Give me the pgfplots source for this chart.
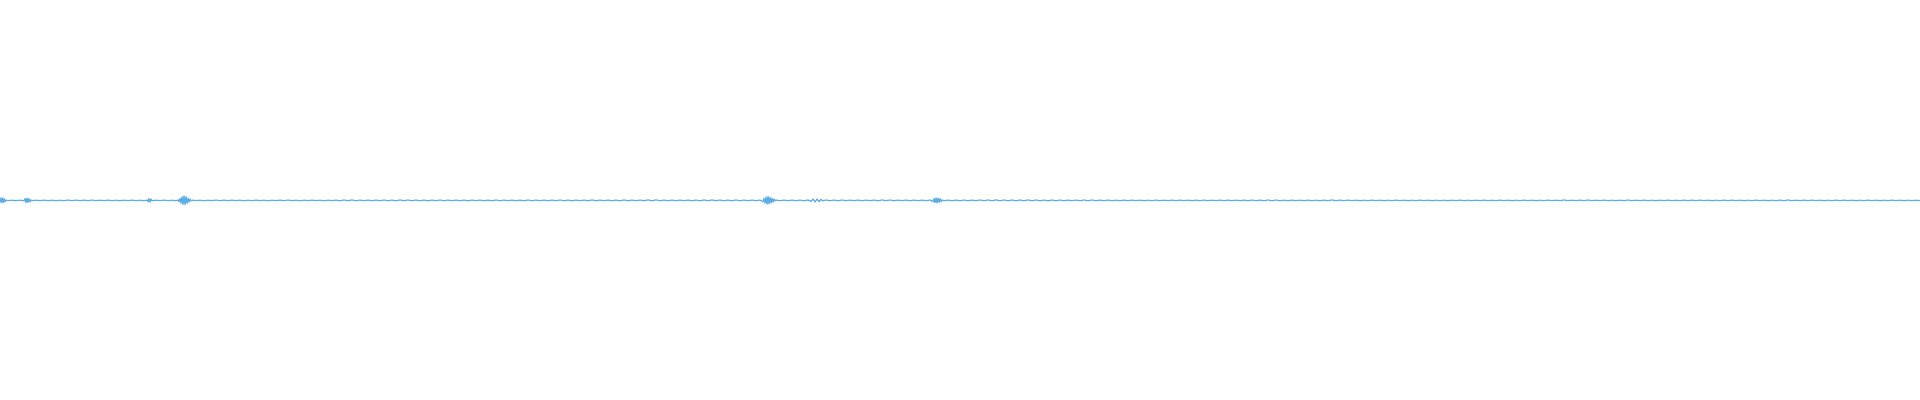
\documentclass[border=0pt]{standalone}
\usepackage{pgfplots}
\pgfplotsset{compat=1.18}
\definecolor{wave}{RGB}{93,173,226}

% waveform, x and y in pixels of the 1920x400 picture, y up from the centre line
\pgfplotstableread[row sep=\\]{
x y\\
0 2.6\\ 1 -2.2\\ 2 2.8\\ 3 -2.6\\ 4 2.0\\ 5 -1.5\\ 6 0.4\\ 8 -0.25\\ 12 0.2\\ 16 -0.3\\ 20 0.25\\ 24 -0.5\\
25 1.8\\ 26 -2.2\\ 27 2.4\\ 28 -2.0\\ 29 1.8\\ 30 -1.5\\ 31 0.5\\ 32 -0.3\\ 36 0.25\\ 40 -0.2\\
44 0.3\\ 48 -0.2\\ 52 0.25\\ 56 -0.35\\ 60 0.2\\ 64 -0.25\\ 68 0.35\\ 72 -0.2\\ 76 0.3\\ 80 -0.25\\
84 0.3\\ 88 -0.2\\ 92 0.35\\ 96 -0.3\\ 100 0.25\\ 104 -0.2\\ 108 0.3\\ 112 -0.25\\ 116 0.2\\ 120 -0.3\\
124 0.25\\ 128 -0.2\\ 132 0.3\\ 136 -0.25\\ 140 0.2\\ 144 -0.3\\ 147 0.4\\ 148 -1.4\\ 149 1.8\\ 150 -1.8\\
151 1.4\\ 152 -0.4\\ 156 0.25\\ 160 -0.2\\ 164 0.3\\ 168 -0.25\\ 172 0.2\\ 176 -0.3\\ 178 0.4\\ 179 -1.4\\
180 2.0\\ 181 -2.8\\ 182 3.6\\ 183 -4.2\\ 184 4.6\\ 185 -4.4\\ 186 3.8\\ 187 -3.0\\ 188 2.4\\ 189 -1.8\\
190 1.4\\ 191 -0.4\\ 193 0.3\\ 196 -0.25\\ 200 0.25\\ 204 -0.3\\ 208 0.2\\ 212 -0.25\\ 216 0.35\\ 220 -0.2\\
224 0.3\\ 228 -0.25\\ 232 0.3\\ 236 -0.2\\ 240 0.25\\ 244 -0.3\\ 248 0.2\\ 252 -0.25\\ 256 0.3\\ 260 -0.2\\
264 0.25\\ 268 -0.3\\ 272 0.2\\ 276 -0.25\\ 280 0.3\\ 284 -0.2\\ 288 0.35\\ 292 -0.25\\ 296 0.2\\ 300 -0.3\\
304 0.25\\ 308 -0.2\\ 312 0.3\\ 316 -0.25\\ 320 0.2\\ 324 -0.3\\ 328 0.25\\ 332 -0.2\\ 336 0.3\\ 340 -0.35\\
344 0.4\\ 348 -0.3\\ 352 0.5\\ 356 -0.35\\ 360 0.3\\ 364 -0.25\\ 368 0.35\\ 372 -0.3\\ 376 0.3\\ 380 -0.25\\
384 0.4\\ 388 -0.3\\ 392 0.3\\ 396 -0.35\\ 400 0.45\\ 404 -0.3\\ 408 0.4\\ 412 -0.3\\ 416 0.35\\ 420 -0.3\\
424 0.3\\ 428 -0.35\\ 432 0.3\\ 436 -0.25\\ 440 0.4\\ 444 -0.3\\ 448 0.3\\ 452 -0.25\\ 456 0.35\\ 460 -0.3\\
464 0.3\\ 468 -0.4\\ 472 0.3\\ 476 -0.25\\ 480 0.35\\ 484 -0.3\\ 488 0.25\\ 492 -0.3\\ 496 0.4\\ 500 -0.3\\
504 0.3\\ 508 -0.25\\ 512 0.3\\ 516 -0.3\\ 520 0.25\\ 524 -0.3\\ 528 0.4\\ 532 -0.3\\ 536 0.3\\ 540 -0.25\\
544 0.35\\ 548 -0.3\\ 552 0.3\\ 556 -0.25\\ 560 0.4\\ 564 -0.3\\ 568 0.3\\ 572 -0.35\\ 576 0.3\\ 580 -0.25\\
584 0.35\\ 588 -0.3\\ 592 0.45\\ 596 -0.3\\ 600 0.3\\ 604 -0.25\\ 608 0.35\\ 612 -0.3\\ 616 0.3\\ 620 -0.4\\
624 0.45\\ 628 -0.3\\ 632 0.3\\ 636 -0.25\\ 640 0.35\\ 644 -0.3\\ 648 0.5\\ 652 -0.4\\ 656 0.55\\ 660 -0.35\\
664 0.3\\ 668 -0.3\\ 672 0.35\\ 676 -0.3\\ 680 0.3\\ 684 -0.25\\ 688 0.35\\ 692 -0.3\\ 696 0.3\\ 700 -0.4\\
704 0.5\\ 708 -0.35\\ 712 0.45\\ 716 -0.3\\ 720 0.35\\ 724 -0.3\\ 728 0.3\\ 732 -0.35\\ 736 0.4\\ 740 -0.3\\
744 0.3\\ 748 -0.25\\ 752 0.35\\ 756 -0.3\\ 760 0.35\\ 763 -1.4\\ 764 2.0\\ 765 -2.8\\ 766 3.4\\ 767 -3.8\\
768 4.0\\ 769 -3.6\\ 770 3.2\\ 771 -2.6\\ 772 2.2\\ 773 -1.8\\ 774 1.4\\ 775 -0.5\\ 776 0.4\\ 780 -0.3\\
784 0.3\\ 788 -0.25\\ 792 0.35\\ 796 -0.3\\ 800 0.3\\ 804 -0.35\\ 808 0.4\\ 811 -1.0\\ 813 1.4\\ 815 -1.6\\
817 1.4\\ 819 -1.2\\ 821 1.0\\ 823 -0.5\\ 826 0.4\\ 830 -0.3\\ 834 0.35\\ 838 -0.3\\ 842 0.4\\ 846 -0.3\\
850 0.3\\ 854 -0.25\\ 858 0.35\\ 862 -0.3\\ 866 0.3\\ 870 -0.25\\ 874 0.35\\ 878 -0.3\\ 882 0.45\\ 886 -0.3\\
890 0.4\\ 894 -0.3\\ 898 0.3\\ 902 -0.25\\ 906 0.35\\ 910 -0.3\\ 914 0.3\\ 918 -0.25\\ 922 0.3\\ 926 -0.3\\
930 0.4\\ 933 -1.4\\ 934 1.8\\ 935 -2.2\\ 936 2.6\\ 937 -2.6\\ 938 2.4\\ 939 -2.0\\ 940 1.8\\ 941 -1.4\\
942 0.5\\ 944 -0.35\\ 948 0.3\\ 952 -0.25\\ 956 0.3\\ 960 -0.3\\ 964 0.35\\ 968 -0.3\\ 972 0.3\\ 976 -0.25\\
980 0.4\\ 984 -0.3\\ 988 0.45\\ 992 -0.35\\ 996 0.5\\ 1000 -0.4\\ 1004 0.45\\ 1008 -0.35\\ 1012 0.4\\ 1016 -0.5\\
1020 0.45\\ 1024 -0.4\\ 1028 0.5\\ 1032 -0.35\\ 1036 0.45\\ 1040 -0.4\\ 1044 0.35\\ 1048 -0.45\\ 1052 0.4\\ 1056 -0.3\\
1060 0.35\\ 1064 -0.3\\ 1068 0.3\\ 1072 -0.25\\ 1076 0.35\\ 1080 -0.3\\ 1084 0.45\\ 1088 -0.35\\ 1092 0.4\\ 1096 -0.3\\
1100 0.3\\ 1104 -0.25\\ 1108 0.35\\ 1112 -0.3\\ 1116 0.25\\ 1120 -0.3\\ 1124 0.3\\ 1128 -0.25\\ 1132 0.3\\ 1136 -0.2\\
1140 0.25\\ 1144 -0.3\\ 1148 0.2\\ 1152 -0.25\\ 1156 0.35\\ 1160 -0.3\\ 1164 0.25\\ 1168 -0.2\\ 1172 0.3\\ 1176 -0.25\\
1180 0.3\\ 1184 -0.2\\ 1188 0.25\\ 1192 -0.3\\ 1196 0.3\\ 1200 -0.25\\ 1204 0.35\\ 1208 -0.3\\ 1212 0.25\\ 1216 -0.2\\
1220 0.3\\ 1224 -0.25\\ 1228 0.3\\ 1232 -0.3\\ 1236 0.25\\ 1240 -0.2\\ 1244 0.3\\ 1248 -0.3\\ 1252 0.35\\ 1256 -0.25\\
1260 0.3\\ 1264 -0.3\\ 1268 0.45\\ 1272 -0.35\\ 1276 0.4\\ 1280 -0.3\\ 1284 0.25\\ 1288 -0.3\\ 1292 0.3\\ 1296 -0.2\\
1300 0.25\\ 1304 -0.3\\ 1308 0.3\\ 1312 -0.25\\ 1316 0.2\\ 1320 -0.3\\ 1324 0.3\\ 1328 -0.25\\ 1332 0.45\\ 1336 -0.35\\
1340 0.3\\ 1344 -0.25\\ 1348 0.3\\ 1352 -0.2\\ 1356 0.25\\ 1360 -0.3\\ 1364 0.2\\ 1368 -0.25\\ 1372 0.3\\ 1376 -0.2\\
1380 0.25\\ 1384 -0.3\\ 1388 0.2\\ 1392 -0.25\\ 1396 0.3\\ 1400 -0.2\\ 1404 0.25\\ 1408 -0.3\\ 1412 0.2\\ 1416 -0.25\\
1420 0.3\\ 1424 -0.2\\ 1428 0.25\\ 1432 -0.3\\ 1436 0.2\\ 1440 -0.25\\ 1444 0.2\\ 1448 -0.3\\ 1452 0.25\\ 1456 -0.2\\
1460 0.3\\ 1464 -0.25\\ 1468 0.2\\ 1472 -0.3\\ 1476 0.25\\ 1480 -0.2\\ 1484 0.3\\ 1488 -0.25\\ 1492 0.2\\ 1496 -0.25\\
1500 0.3\\ 1504 -0.2\\ 1508 0.25\\ 1512 -0.3\\ 1516 0.2\\ 1520 -0.25\\ 1524 0.3\\ 1528 -0.2\\ 1532 0.25\\ 1536 -0.3\\
1540 0.2\\ 1544 -0.25\\ 1548 0.3\\ 1552 -0.2\\ 1556 0.25\\ 1560 -0.3\\ 1564 0.45\\ 1568 -0.3\\ 1572 0.25\\ 1576 -0.2\\
1580 0.3\\ 1584 -0.25\\ 1588 0.4\\ 1592 -0.3\\ 1596 0.25\\ 1600 -0.2\\ 1604 0.3\\ 1608 -0.25\\ 1612 0.2\\ 1616 -0.3\\
1620 0.25\\ 1624 -0.3\\ 1628 0.4\\ 1632 -0.3\\ 1636 0.25\\ 1640 -0.2\\ 1644 0.3\\ 1648 -0.25\\ 1652 0.2\\ 1656 -0.3\\
1660 0.25\\ 1664 -0.2\\ 1668 0.3\\ 1672 -0.25\\ 1676 0.2\\ 1680 -0.25\\ 1684 0.3\\ 1688 -0.2\\ 1692 0.3\\ 1696 -0.25\\
1700 0.3\\ 1704 -0.2\\ 1708 0.25\\ 1712 -0.3\\ 1716 0.2\\ 1720 -0.25\\ 1724 0.3\\ 1728 -0.25\\ 1732 0.3\\ 1736 -0.2\\
1740 0.25\\ 1744 -0.3\\ 1748 0.2\\ 1752 -0.25\\ 1756 0.3\\ 1760 -0.2\\ 1764 0.25\\ 1768 -0.3\\ 1772 0.2\\ 1776 -0.25\\
1780 0.3\\ 1784 -0.35\\ 1788 0.45\\ 1792 -0.3\\ 1796 0.25\\ 1800 -0.2\\ 1804 0.3\\ 1808 -0.25\\ 1812 0.3\\ 1816 -0.2\\
1820 0.25\\ 1824 -0.3\\ 1828 0.2\\ 1832 -0.25\\ 1836 0.3\\ 1840 -0.25\\ 1844 0.3\\ 1848 -0.2\\ 1852 0.25\\ 1856 -0.3\\
1860 0.2\\ 1864 -0.25\\ 1868 0.3\\ 1872 -0.2\\ 1876 0.25\\ 1880 -0.3\\ 1884 0.2\\ 1888 -0.25\\ 1892 0.3\\ 1896 -0.2\\
1900 0.25\\ 1904 -0.3\\ 1908 0.2\\ 1912 -0.25\\ 1916 0.2\\ 1920 -0.2\\
}\wavetable

\begin{document}
\begin{tikzpicture}
\path[use as bounding box] (0,0) rectangle (960pt,200pt);
\begin{axis}[
    at={(0,0)},
    anchor=south west,
    width=960pt,
    height=200pt,
    scale only axis,
    hide axis,
    xmin=0, xmax=1920,
    ymin=-199.6, ymax=200.4,
]
\addplot[wave, line width=0.6pt, line join=round] table[x=x, y=y] {\wavetable};
\end{axis}
\end{tikzpicture}
\end{document}
